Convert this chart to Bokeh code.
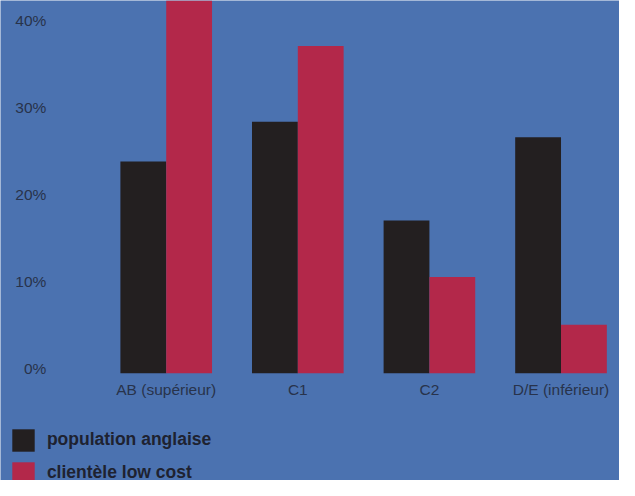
from bokeh.plotting import figure
from bokeh.models import (ColumnDataSource, Range1d, Legend, LegendItem)
from bokeh.transform import dodge
from bokeh.core.properties import value
from bokeh.embed import file_html
from bokeh.resources import INLINE

# ---- data ----
categories = ["AB (supérieur)", "C1", "C2", "D/E (inférieur)"]
population_anglaise = [24.4, 29.0, 17.6, 27.2]
clientele_low_cost = [45.0, 37.7, 11.1, 5.6]
y_ticks = [0, 10, 20, 30, 40]
y_tick_labels = ["0%", "10%", "20%", "30%", "40%"]
series_names = ["population anglaise", "clientèle low cost"]

# ---- style ----
W, H = 619, 480
SX, SY = W / 635.0, H / 496.0
BG = "#4b72b0"
BLACK = "#231f20"
RED = "#b3284a"
TICK_COLOR = "#28334b"
LEGEND_COLOR = "#1e2230"
FONT = "Liberation Sans"

ref_px_per_unit = 8.97      # reference pixels per percentage point
ref_group_px = 135.0        # reference pixels between group centres
bar_w = 47.0 / ref_group_px

src = ColumnDataSource(dict(
    idx=list(range(len(categories))),
    cat=categories,
    pop=population_anglaise,
    low=clientele_low_cost,
    zero=[0] * len(categories),
))
tick_src = ColumnDataSource(dict(
    y=y_ticks,
    lab=y_tick_labels,
))

y_end = 385.3 / ref_px_per_unit
y_start = -(496 - 385.3) / ref_px_per_unit
x_start = (0 - 170) / ref_group_px
x_end = (635 - 170) / ref_group_px

p = figure(width=W, height=H, output_backend="svg", toolbar_location=None,
           x_range=Range1d(x_start, x_end), y_range=Range1d(y_start, y_end),
           x_axis_location=None, y_axis_location=None,
           min_border_left=0, min_border_right=0, min_border_top=0,
           min_border_bottom=0)
p.background_fill_color = BG
p.border_fill_color = BG
p.outline_line_color = None
p.xgrid.visible = False
p.ygrid.visible = False

r1 = p.vbar(x=dodge("idx", -bar_w / 2), top="pop", bottom="zero", width=bar_w,
            source=src, fill_color=BLACK, line_color=None)
r2 = p.vbar(x=dodge("idx", bar_w / 2), top="low", bottom="zero", width=bar_w,
            source=src, fill_color=RED, line_color=None)

# category labels under the bars
p.text(x="idx", y="zero", text="cat", source=src, text_align="center",
       text_baseline="middle", y_offset=17 * SY, text_font=value(FONT),
       text_font_size="15.5px", text_color=TICK_COLOR)

# y tick labels (right aligned at the left margin, sitting just above value line)
p.text(x=x_start, y="y", text="lab", source=tick_src, text_align="right",
       text_baseline="middle", x_offset=47 * SX, y_offset=-5.5 * SY,
       text_font=value(FONT), text_font_size="15.5px", text_color=TICK_COLOR)

# legend: bar legend glyphs are drawn at 80% of the glyph box
sq_w = 23 * SX
sq_h = 23 * SY
box_w = sq_w / 0.8
box_h = sq_h / 0.8
inset_x = (box_w - sq_w) / 2
inset_y = (box_h - sq_h) / 2
pitch = 34 * SY
top = 443 * SY - inset_y
height = 2 * box_h + (pitch - box_h)
legend = Legend(items=[LegendItem(label=series_names[0], renderers=[r1]),
                       LegendItem(label=series_names[1], renderers=[r2])],
                location=(12 * SX - inset_x, H - (top + height)),
                orientation="vertical")
legend.glyph_width = round(box_w)
legend.glyph_height = round(box_h)
legend.label_height = round(box_h)
legend.spacing = round(pitch - box_h)
legend.padding = 0
legend.margin = 0
legend.label_standoff = round(13 * SX - inset_x)
legend.border_line_color = None
legend.background_fill_alpha = 0
legend.label_text_font = FONT
legend.label_text_font_style = "bold"
legend.label_text_font_size = "17.5px"
legend.label_text_color = LEGEND_COLOR
p.add_layout(legend, "center")

open("out.html", "w").write(file_html(p, INLINE))
